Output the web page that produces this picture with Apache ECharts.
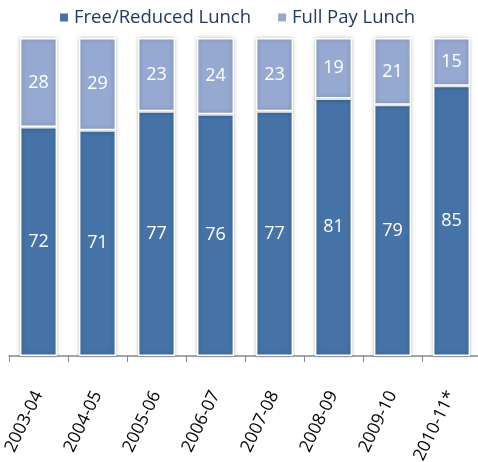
<!DOCTYPE html>
<html>
<head>
<meta charset="utf-8">
<script src="https://cdn.jsdelivr.net/npm/echarts@6/dist/echarts.min.js"></script>
<style>
  html, body { margin: 0; padding: 0; background: #fff; }
  #chartBox { width: 478px; height: 462px; }
</style>
</head>
<body>
<div id="chartBox"></div>
<script>
// school years
var years = ['2003-04', '2004-05', '2005-06', '2006-07', '2007-08', '2008-09', '2009-10', '2010-11*'];
// percent of students
var freeReduced = [72, 71, 77, 76, 77, 81, 79, 85];
var fullPay = [28, 29, 23, 24, 23, 19, 21, 15];

var chart = echarts.init(document.getElementById('chartBox'));

var barStyle = {
    borderColor: '#fff',
    borderWidth: 1.5,
    shadowColor: 'rgba(0,0,0,0.25)',
    shadowBlur: 4,
    shadowOffsetX: 0
};

var option = {
    animation: false,
    textStyle: { fontFamily: 'Open Sans' },
    legend: {
        top: 3,
        left: 53,
        itemWidth: 10,
        itemHeight: 10,
        itemGap: 25,
        icon: 'rect',
        textStyle: { fontSize: 18.5, color: '#1F3864', fontFamily: 'Open Sans' },
        data: ['Free/Reduced Lunch', 'Full Pay Lunch']
    },
    grid: { left: 9, right: -3, top: 38, bottom: 106, outerBoundsMode: 'none', containLabel: false },
    xAxis: {
        type: 'category',
        data: years,
        axisLine: { lineStyle: { color: '#888', width: 1.5 } },
        axisTick: { show: true, length: 6, alignWithLabel: false, lineStyle: { color: '#888' } },
        axisLabel: { rotate: 64, margin: 36, fontSize: 17.5, color: '#000', interval: 0 }
    },
    yAxis: {
        type: 'value',
        min: 0,
        max: 100,
        show: false
    },
    series: [{
        name: 'Free/Reduced Lunch',
        type: 'bar',
        stack: 'a',
        barCategoryGap: '37%',
        data: freeReduced,
        itemStyle: Object.assign({ color: '#4572A7' }, barStyle),
        label: { show: true, position: 'inside', color: '#fff', fontSize: 18 }
    }, {
        name: 'Full Pay Lunch',
        type: 'bar',
        stack: 'a',
        data: fullPay,
        itemStyle: Object.assign({ color: '#95A9D1' }, barStyle),
        label: { show: true, position: 'inside', color: '#fff', fontSize: 18 }
    }]
};

chart.setOption(option);
</script>
</body>
</html>
